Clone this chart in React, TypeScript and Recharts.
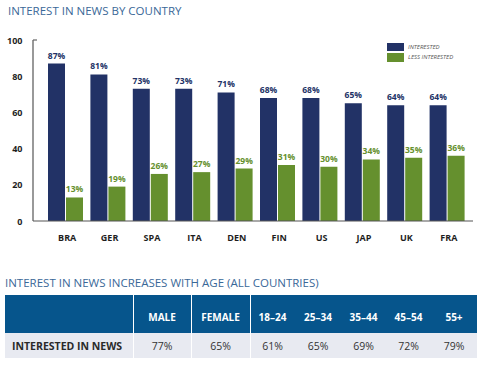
import React from "react";
import { BarChart, Bar, XAxis, YAxis, LabelList } from "recharts";

const countries = ["BRA", "GER", "SPA", "ITA", "DEN", "FIN", "US", "JAP", "UK", "FRA"];
const interested = [87, 81, 73, 73, 71, 68, 68, 65, 64, 64];
const lessInterested = [13, 19, 26, 27, 29, 31, 30, 34, 35, 36];
const yTicks = [0, 20, 40, 60, 80, 100];

const tableHeaders = ["MALE", "FEMALE", "18–24", "25–34", "35–44", "45–54", "55+"];
const tableValues = [77, 65, 61, 65, 69, 72, 79];
const rowLabel = "INTERESTED IN NEWS";

const NAVY = "#223266";
const GREEN = "#65902e";
const TITLE_BLUE = "#3a6898";
const HEADER_BLUE = "#06558c";
const FONT = "'Open Sans', 'Lato', sans-serif";

const data = countries.map((c, i) => ({
  country: c,
  interested: interested[i],
  less: lessInterested[i],
}));

const YTick = (props: any) => {
  const { y, payload } = props;
  return (
    <g>
      <text x={22.5} y={y} dy={3.5} textAnchor="end" fontSize={9} fontWeight={700} fill="#1e1e1e" fontFamily={FONT}>
        {payload.value}
      </text>
      {payload.value === 100 ? <line x1={33} x2={37} y1={y} y2={y} stroke="#666" strokeWidth={1.2} /> : null}
    </g>
  );
};

const XTick = (props: any) => {
  const { x, y, payload } = props;
  return (
    <text x={x + 2} y={y + 12} textAnchor="middle" fontSize={9} fontWeight={700} fill="#1e1e1e" fontFamily={FONT}>
      {payload.value}
    </text>
  );
};

const makeLabel = (color: string) => (props: any) => {
  const { x, y, width, value } = props;
  return (
    <text x={x + width / 2} y={y - 5} textAnchor="middle" fontSize={8.5} fontWeight={700} fill={color} fontFamily={FONT}>
      {value}%
    </text>
  );
};

export default function App() {
  const colWidths = [58, 59, 45, 46, 45, 45, 46];
  return (
    <div style={{ position: "absolute", left: 0, top: 0, width: 489, height: 369, background: "#fff", fontFamily: FONT }}>
      <div style={{ position: "absolute", left: 8, top: 3, fontSize: 11.5, color: TITLE_BLUE, fontWeight: 400, whiteSpace: "nowrap" }}>
        INTEREST IN NEWS BY COUNTRY
      </div>
      <div style={{ position: "absolute", left: 0, top: 0 }}>
        <BarChart width={489} height={245} data={data} margin={{ top: 40, right: 16, bottom: 4, left: 0 }} barSize={17} barGap={1}>
          <XAxis
            dataKey="country"
            height={20}
            padding={{ left: 11, right: 5 }}
            axisLine={{ stroke: "#555", strokeWidth: 1.2 }}
            tickLine={false}
            tick={<XTick />}
            interval={0}
          />
          <YAxis
            width={33}
            domain={[0, 100]}
            ticks={yTicks}
            axisLine={{ stroke: "#555", strokeWidth: 1.2 }}
            tickLine={false}
            tick={<YTick />}
          />
          <Bar dataKey="interested" fill={NAVY} isAnimationActive={false}>
            <LabelList dataKey="interested" content={makeLabel(NAVY)} />
          </Bar>
          <Bar dataKey="less" fill={GREEN} isAnimationActive={false}>
            <LabelList dataKey="less" content={makeLabel(GREEN)} />
          </Bar>
        </BarChart>
      </div>
      {/* legend */}
      <div style={{ position: "absolute", left: 387, top: 43, width: 17, height: 8, background: NAVY }} />
      <div style={{ position: "absolute", left: 387, top: 53, width: 17, height: 9, background: GREEN }} />
      <div style={{ position: "absolute", left: 408, top: 42, fontSize: 6, fontStyle: "italic", color: "#555", lineHeight: "10px" }}>INTERESTED</div>
      <div style={{ position: "absolute", left: 408, top: 52, fontSize: 6, fontStyle: "italic", color: "#555", lineHeight: "10px" }}>LESS INTERESTED</div>

      {/* table */}
      <div style={{ position: "absolute", left: 5, top: 275, fontSize: 11.5, color: TITLE_BLUE, whiteSpace: "nowrap" }}>
        INTEREST IN NEWS INCREASES WITH AGE (ALL COUNTRIES)
      </div>
      <div style={{ position: "absolute", left: 5, top: 295, width: 472, height: 38, background: HEADER_BLUE }} />
      <div style={{ position: "absolute", left: 5, top: 333, width: 472, height: 25, background: "#e8eaf1" }} />
      <div style={{ position: "absolute", left: 133, top: 295, width: 1, height: 63, background: "#fff" }} />
      <div style={{ position: "absolute", left: 191, top: 295, width: 1, height: 63, background: "#fff" }} />
      <div style={{ position: "absolute", left: 250, top: 295, width: 1, height: 63, background: "#fff" }} />
      <div style={{ position: "absolute", left: 12, top: 339, fontSize: 10.5, fontWeight: 700, color: "#2a2a2a", whiteSpace: "nowrap", lineHeight: "14px" }}>
        {rowLabel}
      </div>
      {tableHeaders.map((h, i) => {
        const left = 133 + colWidths.slice(0, i).reduce((a, b) => a + b, 0);
        return (
          <React.Fragment key={h}>
            <div style={{ position: "absolute", left, top: 310, width: colWidths[i], textAlign: "center", fontSize: 10, fontWeight: 700, color: "#fff", lineHeight: "14px", whiteSpace: "nowrap" }}>
              {h}
            </div>
            <div style={{ position: "absolute", left, top: 339, width: colWidths[i], textAlign: "center", fontSize: 10.5, color: "#333", lineHeight: "14px" }}>
              {tableValues[i]}%
            </div>
          </React.Fragment>
        );
      })}
    </div>
  );
}
